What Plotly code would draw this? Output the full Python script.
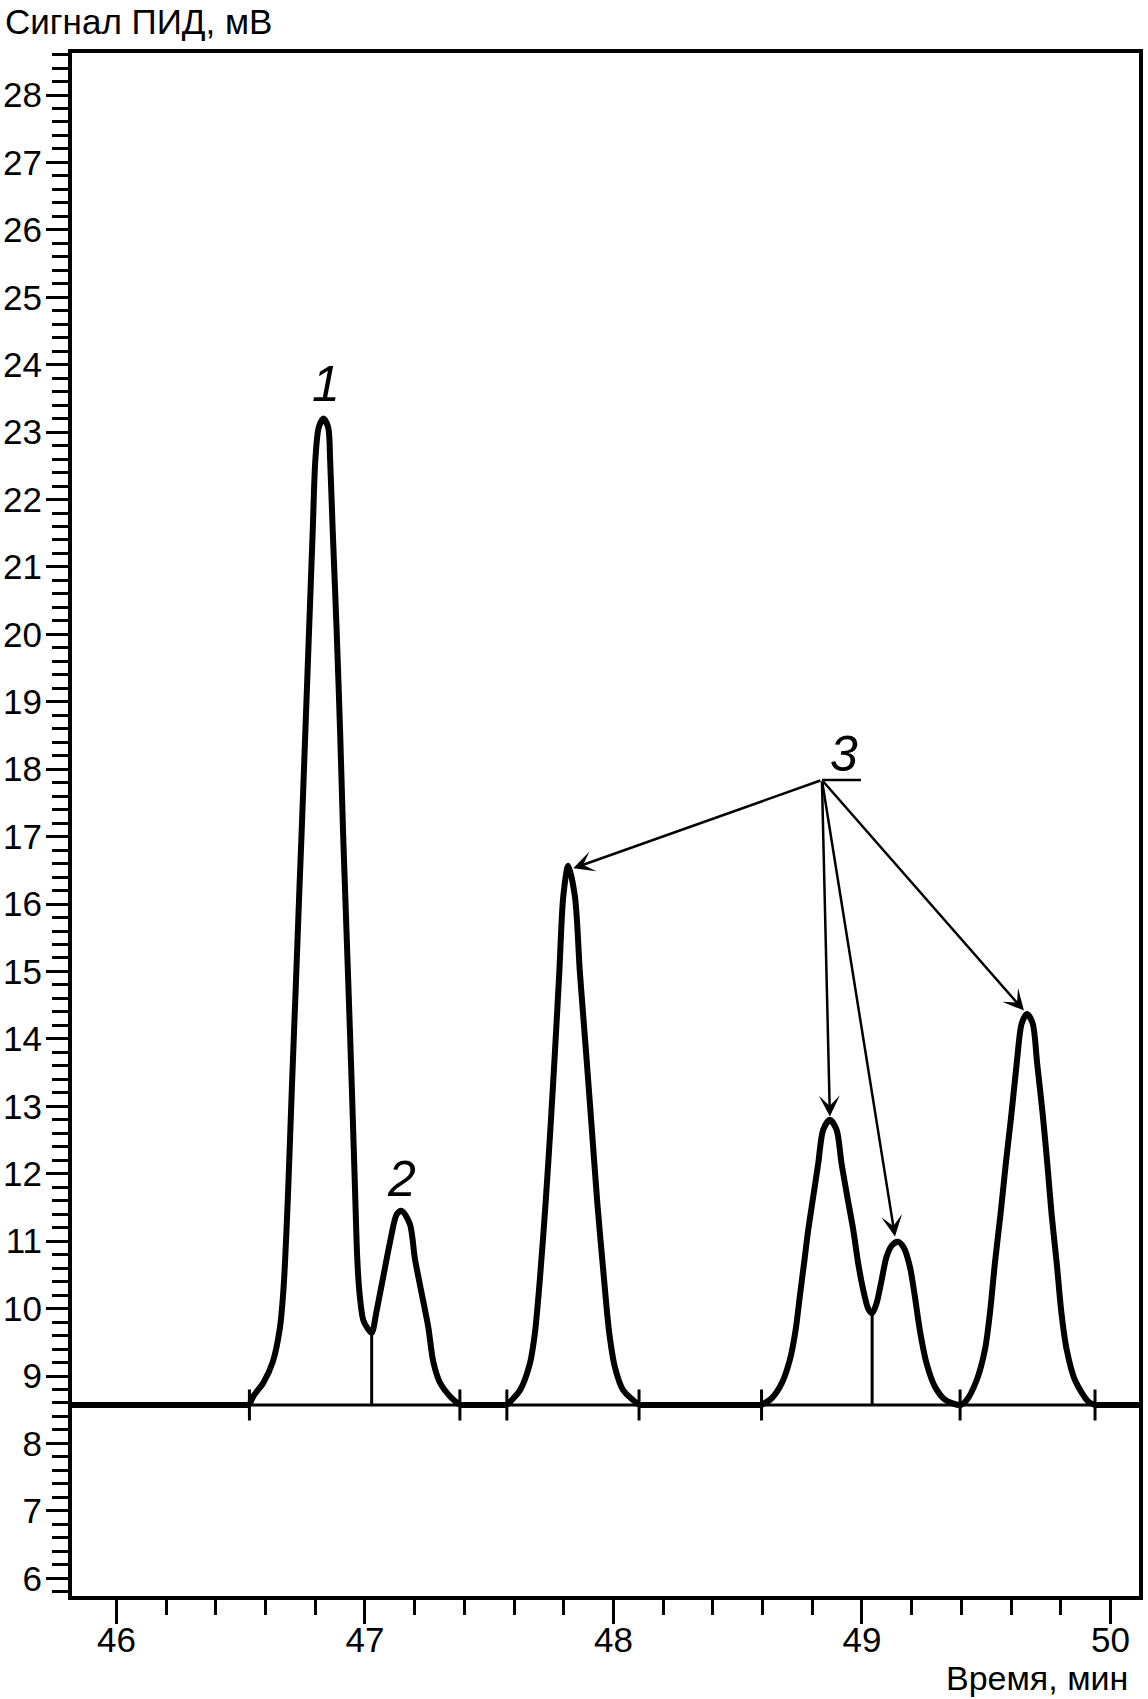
import plotly.graph_objects as go

# ---- data ----
time_min = [
    45.821, 46.535, 46.551, 46.591, 46.629, 46.658, 46.671, 46.679, 46.691, 46.706,
    46.722, 46.737, 46.745, 46.760, 46.775, 46.790, 46.800, 46.814, 46.833, 46.852,
    46.860, 46.870, 46.886, 46.900, 46.912, 46.919, 46.933, 46.947, 46.960, 46.969,
    46.978, 46.993, 47.010, 47.027, 47.047, 47.074, 47.101, 47.128, 47.148, 47.181, 47.201,
    47.228, 47.255, 47.275, 47.302, 47.342, 47.382, 47.571, 47.624, 47.664, 47.684,
    47.704, 47.727, 47.747, 47.765, 47.782, 47.798, 47.818, 47.845, 47.865, 47.889,
    47.912, 47.935, 47.962, 47.983, 48.006, 48.039, 48.103, 48.596, 48.637, 48.677,
    48.710, 48.733, 48.750, 48.767, 48.784, 48.804, 48.824, 48.844, 48.871, 48.898,
    48.918, 48.941, 48.965, 48.985, 49.005, 49.025, 49.041, 49.059, 49.079, 49.099,
    49.121, 49.145, 49.169, 49.193, 49.213, 49.233, 49.260, 49.294, 49.334, 49.395,
    49.421, 49.462, 49.495, 49.515, 49.535, 49.558, 49.579, 49.602, 49.623,
    49.643, 49.664, 49.687, 49.705, 49.727, 49.746, 49.763, 49.784, 49.803, 49.824,
    49.857, 49.911, 49.938, 50.115,
]
signal_mv = [
    8.57, 8.57, 8.70, 8.90, 9.21, 9.72, 10.23, 10.74, 11.76, 13.29,
    14.82, 16.30, 17.05, 18.55, 20.06, 21.56, 22.57, 23.07, 23.20, 23.07,
    22.57, 21.56, 20.06, 18.55, 17.05, 16.30, 14.82, 13.29, 11.76, 10.74,
    10.23, 9.83, 9.71, 9.64, 9.97, 10.48, 10.99, 11.40, 11.45, 11.25, 10.74,
    10.23, 9.72, 9.21, 8.90, 8.70, 8.57, 8.57, 8.79, 9.19, 9.64,
    10.44, 11.57, 12.71, 13.84, 14.98, 16.11, 16.57, 16.11, 14.98, 13.84,
    12.71, 11.57, 10.44, 9.64, 9.13, 8.79, 8.57, 8.57, 8.67, 8.89,
    9.24, 9.68, 10.18, 10.67, 11.17, 11.66, 12.15, 12.65, 12.80, 12.65,
    12.15, 11.66, 11.17, 10.67, 10.28, 10.00, 9.93, 10.08, 10.42, 10.77,
    10.94, 10.99, 10.90, 10.62, 10.18, 9.68, 9.19, 8.84, 8.65, 8.57,
    8.64, 8.94, 9.39, 9.93, 10.67, 11.41, 12.15, 12.90, 13.64,
    14.23, 14.37, 14.23, 13.64, 12.90, 12.15, 11.41, 10.67, 9.93, 9.39,
    8.94, 8.62, 8.57, 8.57,
]
baseline_mv = 8.57
peak_bounds_min = [46.535, 47.382, 47.571, 48.103, 48.596, 49.395, 49.938]
bound_low_mv = 8.34
bound_high_mv = 8.80
valley_time_min = [47.027, 49.041]
valley_signal_mv = [9.64, 9.93]

peak_label_text = ["1", "2", "3"]
peak_label_x = [46.843, 47.147, 48.928]
peak_label_y = [23.71, 11.92, 18.225]

arrow_origin_x = 48.839
arrow_origin_y = 17.84
underline_x = [48.839, 48.996]
arrow_target_x = [47.838, 48.871, 49.133, 49.652]
arrow_target_y = [16.53, 12.85, 11.07, 14.42]

x_range = [45.821, 50.115]
y_range = [5.737, 28.623]
x_tick_vals = [46, 47, 48, 49, 50]
y_tick_vals = list(range(6, 29))

y_title = "Сигнал ПИД, мВ"
x_title = "Время, мин"

FONT = "Liberation Sans, Arial, sans-serif"

# split the signal into flat (baseline) stretches and peak stretches
n = len(time_min)
flat_x, flat_y = [], []
runs, cur = [], [0]
for i in range(n - 1):
    if signal_mv[i] == baseline_mv and signal_mv[i + 1] == baseline_mv:
        flat_x += [time_min[i], time_min[i + 1], None]
        flat_y += [baseline_mv, baseline_mv, None]
        if len(cur) > 1:
            runs.append(cur)
        cur = [i + 1]
    else:
        cur.append(i + 1)
if len(cur) > 1:
    runs.append(cur)
curve_x, curve_y = [], []
for r in runs:
    curve_x += [time_min[j] for j in r] + [None]
    curve_y += [signal_mv[j] for j in r] + [None]

fig = go.Figure()

# thin integration baseline across the whole window
fig.add_trace(go.Scatter(x=x_range, y=[baseline_mv, baseline_mv], mode="lines",
                         line=dict(color="black", width=3), hoverinfo="skip"))

# signal: flat parts and peaks
fig.add_trace(go.Scatter(x=flat_x, y=flat_y, mode="lines",
                         line=dict(color="black", width=6), hoverinfo="skip"))
fig.add_trace(go.Scatter(x=curve_x, y=curve_y, mode="lines", connectgaps=False,
                         line=dict(color="black", width=6, shape="spline", smoothing=0.8),
                         hoverinfo="skip"))

# peak start / end marks
bx, by = [], []
for t in peak_bounds_min:
    bx += [t, t, None]
    by += [bound_low_mv, bound_high_mv, None]
fig.add_trace(go.Scatter(x=bx, y=by, mode="lines",
                         line=dict(color="black", width=3), hoverinfo="skip"))

# valley drop lines
dx, dy = [], []
for t, v in zip(valley_time_min, valley_signal_mv):
    dx += [t, t, None]
    dy += [baseline_mv, v, None]
fig.add_trace(go.Scatter(x=dx, y=dy, mode="lines",
                         line=dict(color="black", width=3), hoverinfo="skip"))

# underline of label 3
fig.add_trace(go.Scatter(x=underline_x, y=[arrow_origin_y, arrow_origin_y], mode="lines",
                         line=dict(color="black", width=2.5), hoverinfo="skip"))

annotations = []
for txt, lx, ly in zip(peak_label_text, peak_label_x, peak_label_y):
    annotations.append(dict(x=lx, y=ly, xref="x", yref="y", text="<i>%s</i>" % txt,
                            showarrow=False, xanchor="center", yanchor="middle",
                            font=dict(family=FONT, size=50, color="black")))
for tx, ty in zip(arrow_target_x, arrow_target_y):
    annotations.append(dict(x=tx, y=ty, xref="x", yref="y", ax=arrow_origin_x, ay=arrow_origin_y,
                            axref="x", ayref="y", text="", showarrow=True, arrowhead=3,
                            arrowsize=1.4, arrowwidth=2.5, arrowcolor="black", standoff=0))
annotations.append(dict(x=-0.0647, y=1.0207, xref="paper", yref="paper", text=y_title,
                        showarrow=False, xanchor="left", yanchor="middle",
                        font=dict(family=FONT, size=35, color="black")))
annotations.append(dict(x=0.9916, y=-0.0531, xref="paper", yref="paper", text=x_title,
                        showarrow=False, xanchor="right", yanchor="middle",
                        font=dict(family=FONT, size=34, color="black")))

fig.update_layout(
    width=1148, height=1699,
    margin=dict(l=72, r=9, t=53, b=103, autoexpand=False),
    paper_bgcolor="white", plot_bgcolor="white",
    showlegend=False,
    annotations=annotations,
    font=dict(family=FONT, size=35, color="black"),
)
fig.update_xaxes(range=x_range, tickvals=x_tick_vals, ticks="outside", ticklen=24, tickwidth=3,
                 tickcolor="black", showline=True, linewidth=4, linecolor="black", mirror=True,
                 showgrid=False, zeroline=False, automargin=False, ticklabelstandoff=-14,
                 tickfont=dict(family=FONT, size=35, color="black"),
                 minor=dict(tick0=46, dtick=0.2, ticks="outside", ticklen=15, tickwidth=3,
                            tickcolor="black", showgrid=False))
fig.update_yaxes(range=y_range, tickvals=y_tick_vals, ticks="outside", ticklen=22, tickwidth=3,
                 tickcolor="black", showline=True, linewidth=4, linecolor="black", mirror=True,
                 showgrid=False, zeroline=False, automargin=False, ticklabelstandoff=-3,
                 tickfont=dict(family=FONT, size=35, color="black"),
                 minor=dict(tick0=6, dtick=0.2, ticks="outside", ticklen=16, tickwidth=3,
                            tickcolor="black", showgrid=False))

fig.write_html("out.html", config={"displayModeBar": False},
               post_script="document.body.style.margin='0';document.body.style.overflow='hidden';")
